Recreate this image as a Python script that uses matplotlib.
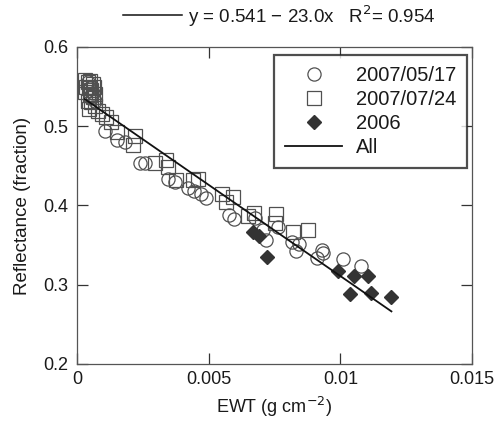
import matplotlib
matplotlib.use("Agg")
import matplotlib.pyplot as plt
from matplotlib.lines import Line2D
import numpy as np

plt.rcParams['font.family'] = ['Liberation Sans', 'DejaVu Sans']

# 2007/05/17 (open circles)
ewt_0517 = [0.00040, 0.00050, 0.00060, 0.00050, 0.00070,
            0.00106, 0.00151, 0.00182, 0.00239, 0.00258, 0.00347, 0.00372,
            0.00423, 0.00444, 0.00470, 0.00490, 0.00579, 0.00598, 0.00676,
            0.00708, 0.00716, 0.00762, 0.00815, 0.00844, 0.00832, 0.00910,
            0.00929, 0.00935, 0.01009, 0.01078]
ref_0517 = [0.556, 0.548, 0.542, 0.537, 0.532,
            0.494, 0.482, 0.480, 0.454, 0.453, 0.433, 0.430,
            0.422, 0.418, 0.414, 0.410, 0.388, 0.383, 0.384,
            0.369, 0.357, 0.373, 0.354, 0.352, 0.342, 0.334,
            0.344, 0.340, 0.333, 0.324]

# 2007/07/24 (open squares)
ewt_0724 = [0.00030, 0.00040, 0.00050, 0.00060, 0.00035, 0.00045, 0.00055,
            0.00065, 0.00030, 0.00050, 0.00060, 0.00070, 0.00040, 0.00055,
            0.00070, 0.00045, 0.00080, 0.00095, 0.00110, 0.00128, 0.00150,
            0.00220, 0.00214, 0.00296, 0.00338, 0.00345, 0.00376, 0.00442,
            0.00460, 0.00550, 0.00594, 0.00566, 0.00650, 0.00672, 0.00756,
            0.00752, 0.00819, 0.00878]
ref_0724 = [0.558, 0.556, 0.557, 0.553, 0.550, 0.548, 0.546,
            0.549, 0.543, 0.540, 0.537, 0.541, 0.532, 0.530,
            0.526, 0.522, 0.519, 0.515, 0.511, 0.505, 0.493,
            0.488, 0.476, 0.454, 0.457, 0.449, 0.432, 0.432,
            0.434, 0.415, 0.411, 0.404, 0.387, 0.390, 0.389,
            0.378, 0.366, 0.369]

# 2006 (filled diamonds)
ewt_2006 = [0.00670, 0.00692, 0.00720, 0.00992, 0.01053, 0.01104, 0.01037,
            0.01115, 0.01194]
ref_2006 = [0.366, 0.362, 0.335, 0.317, 0.311, 0.311, 0.288, 0.290, 0.284]

# regression on all data
intercept = 0.541
slope = -23.0
r2 = 0.954

x_ticks = [0, 0.005, 0.01, 0.015]
x_tick_labels = ["0", "0.005", "0.01", "0.015"]
y_ticks = [0.2, 0.3, 0.4, 0.5, 0.6]
y_tick_labels = ["0.2", "0.3", "0.4", "0.5", "0.6"]

fig = plt.figure(figsize=(5.0, 4.23), dpi=100)
ax = fig.add_axes([0.154, 0.1395, 0.79, 0.7495])

edge = '#505050'
ax.plot(ewt_0517, ref_0517, linestyle='none', marker='o', markersize=9.5,
        markerfacecolor='none', markeredgecolor=edge, markeredgewidth=0.9,
        label='2007/05/17')
ax.plot(ewt_0724, ref_0724, linestyle='none', marker='s', markersize=9.5,
        markerfacecolor='none', markeredgecolor=edge, markeredgewidth=0.9,
        label='2007/07/24')
ax.plot(ewt_2006, ref_2006, linestyle='none', marker='D', markersize=7,
        markerfacecolor='#333333', markeredgecolor='#333333',
        label='2006')

all_x = np.array(ewt_0517 + ewt_0724 + ewt_2006)
xl = np.array([all_x.min(), all_x.max()])
ax.plot(xl, intercept + slope * xl, color='#111111', linewidth=1.3, label='All')

ax.set_xlim(0, 0.015)
ax.set_ylim(0.2, 0.6)
ax.set_xticks(x_ticks)
ax.set_xticklabels(x_tick_labels)
ax.set_yticks(y_ticks)
ax.set_yticklabels(y_tick_labels)
ax.tick_params(direction='in', length=8, width=0.9, top=True, right=True,
               labelsize=13, colors='#333333', labelcolor='#1a1a1a')
ax.tick_params(axis='x', pad=5)
ax.tick_params(axis='y', pad=6)
for s in ax.spines.values():
    s.set_color('#555555')
    s.set_linewidth(0.9)

ax.set_xlabel('EWT (g cm$^{-2}$)', fontsize=13, color='#1a1a1a', labelpad=5)
ax.set_ylabel('Reflectance (fraction)', fontsize=13.5, color='#1a1a1a', labelpad=9)

leg = ax.legend(loc='upper right', bbox_to_anchor=(0.988, 0.975), fontsize=14.5,
                frameon=True, fancybox=False, edgecolor='#222222',
                handlelength=2.8, borderpad=0.55, labelspacing=0.25,
                handletextpad=0.7, borderaxespad=0.0)
leg.get_frame().set_linewidth(1.6)
for t in leg.get_texts():
    t.set_color('#1a1a1a')

# title: regression equation with line sample
fig.add_artist(Line2D([0.246, 0.364], [0.964, 0.964], color='#111111',
                      linewidth=1.1, transform=fig.transFigure))
fig.text(0.376, 0.962, f'y = {intercept:.3f} \u2212 {abs(slope):.1f}x   R$^2$= {r2:.3f}',
         fontsize=13.5, va='center', ha='left', color='#1a1a1a')

fig.savefig('out.png', dpi=100)
